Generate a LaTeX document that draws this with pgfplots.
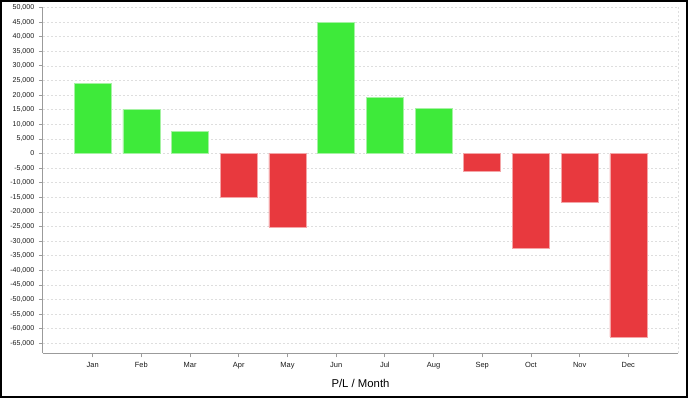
\documentclass[border=0pt]{standalone}
\usepackage{pgfplots}
\pgfplotsset{compat=1.18}
\usepackage{fontspec}
\setmainfont{Liberation Sans}
\definecolor{pos}{RGB}{62,234,58}
\definecolor{neg}{RGB}{232,57,62}
\definecolor{posb}{RGB}{165,242,163}
\definecolor{negb}{RGB}{244,165,167}
\definecolor{axg}{RGB}{155,155,155}
\definecolor{gridg}{RGB}{222,222,222}
\begin{document}
\begin{tikzpicture}[x=1pt,y=1pt]
\useasboundingbox (0,0) rectangle (516,298.5);
\begin{axis}[
  at={(32.25pt,33.5pt)}, anchor=south west,
  scale only axis, width=476.25pt, height=259.4pt,
  xmin=-1.02, xmax=12.02, ymin=-68400, ymax=50000,
  axis x line*=bottom, axis y line*=left,
  axis line style={-, axg, line width=0.75pt},
  xtick={0,1,2,3,4,5,6,7,8,9,10,11},
  xticklabels={Jan,Feb,Mar,Apr,May,Jun,Jul,Aug,Sep,Oct,Nov,Dec},
  ytick={-65000,-60000,...,50000},
  tick align=outside, major tick length=3pt,
  tick style={axg, line width=0.6pt},
  ymajorgrids,
  grid style={gridg, dash pattern=on 1.5pt off 1.5pt, line width=0.5pt},
  tick label style={text=black!90},
  yticklabel style={font=\fontsize{5.3}{6}\selectfont},
  xticklabel style={font=\fontsize{5.6}{6.5}\selectfont},
  scaled y ticks=false,
  yticklabel style={/pgf/number format/.cd, fixed, 1000 sep={,}, assume math mode=true},
  xlabel={P/L / Month},
  xlabel style={font=\fontsize{8.5}{10}\selectfont, at={(axis description cs:0.5,0)}, anchor=center, yshift=-22.3pt},
  bar width=0.76,
  clip=false,
]
\addplot[ybar, bar shift=0pt, fill=pos, draw=posb, line width=0.5pt] coordinates {
  (0,23900) (1,15100) (2,7700) (5,45000) (6,19100) (7,15500)
};
\addplot[ybar, bar shift=0pt, fill=neg, draw=negb, line width=0.5pt] coordinates {
  (3,-14900) (4,-25100) (8,-6100) (9,-32300) (10,-16800) (11,-62800)
};
\draw[gridg, dash pattern=on 1.5pt off 1.5pt, line width=0.5pt] (rel axis cs:1,0) -- (rel axis cs:1,1);
\end{axis}
\draw[black, line width=1.5pt] (0.75,0.75) rectangle (515.25,297.75);
\end{tikzpicture}
\end{document}
